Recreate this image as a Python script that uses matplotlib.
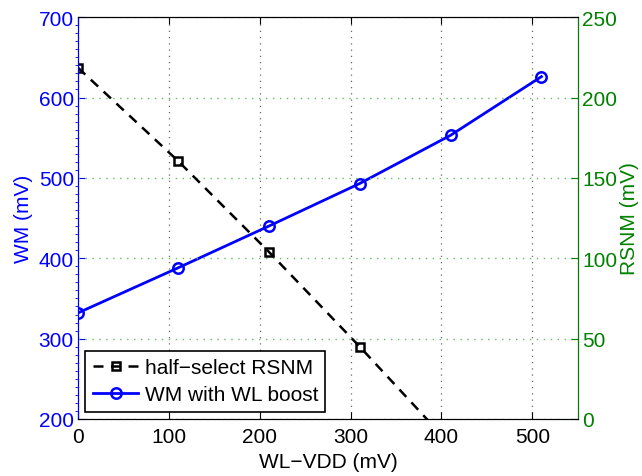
import matplotlib.pyplot as plt
from matplotlib.ticker import MultipleLocator

plt.rcParams['font.family'] = ['Liberation Sans', 'DejaVu Sans']

# data
wl_wm = [0, 110, 210, 310, 410, 510]
wm = [332, 388, 440, 493, 553, 626]
wl_rsnm = [0, 110, 210, 310, 410]
rsnm = [218.5, 160.6, 104, 45, -16]

blue = '#0000ff'
green = '#008000'

fig = plt.figure(figsize=(6.42, 4.77), dpi=100)
ax1 = fig.add_axes([0.1215, 0.1195, 0.7785, 0.8425])
ax2 = ax1.twinx()

l2, = ax2.plot(wl_rsnm, rsnm, 'k--s', lw=1.8, ms=6, mfc='none', mew=1.8,
               dashes=(4, 3), label='half\u2212select RSNM')
l1, = ax1.plot(wl_wm, wm, '-o', color=blue, lw=2, ms=7.5, mfc='none', mew=1.8,
               label='WM with WL boost')

ax1.set_xlim(0, 550)
ax1.set_ylim(200, 700)
ax2.set_ylim(0, 250)
ax1.xaxis.set_major_locator(MultipleLocator(100))
ax1.yaxis.set_major_locator(MultipleLocator(100))
ax1.yaxis.set_minor_locator(MultipleLocator(10))
ax2.yaxis.set_major_locator(MultipleLocator(50))

ax1.set_xlabel('WL\u2212VDD (mV)', fontsize=15, labelpad=4)
ax1.set_ylabel('WM (mV)', fontsize=15, color=blue, labelpad=4)
ax2.set_ylabel('RSNM (mV)', fontsize=15, color=green, labelpad=2)

ax1.tick_params(axis='both', direction='in', labelsize=15, length=5, pad=3)
ax1.tick_params(axis='x', pad=6, top=True)
ax1.tick_params(axis='y', which='both', colors=blue, right=False)
ax1.tick_params(axis='y', which='minor', length=2)
ax2.tick_params(axis='y', direction='in', colors=green, labelsize=15, length=5, pad=3)

ax2.spines['left'].set_color(blue)
ax2.spines['right'].set_color(green)
ax2.spines['top'].set_color('black')
ax2.spines['bottom'].set_color('black')

ax1.xaxis.grid(True, linestyle=(0, (1, 4)), color='#666666', lw=0.9)
ax2.yaxis.grid(True, linestyle=(0, (1, 4)), color='#66bb66', lw=1.0)

leg = ax2.legend([l2, l1], ['half\u2212select RSNM', 'WM with WL boost'],
                 loc='lower left', fontsize=15, fancybox=False,
                 edgecolor='black', framealpha=1, borderaxespad=0.35,
                 handlelength=2.2, handletextpad=0.3, borderpad=0.35, labelspacing=0.4)
leg.get_frame().set_linewidth(1.2)

fig.savefig('out.png', dpi=100)
